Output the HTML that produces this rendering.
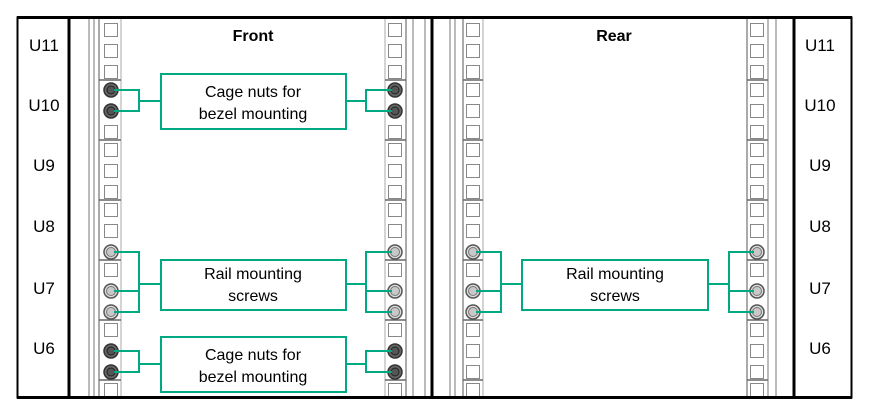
<!DOCTYPE html>
<html><head><style>body{margin:0;background:#fff}svg{display:block}</style></head><body>
<svg width="874" height="413" viewBox="0 0 874 413" xmlns="http://www.w3.org/2000/svg" font-family="Liberation Sans, sans-serif">
<defs>
<rect id="sq" x="-6.5" y="-6.5" width="13" height="13" fill="#fff" stroke="#888" stroke-width="1"/>
<g id="nut"><circle r="7" fill="#666" stroke="#333" stroke-width="1.5"/><circle r="4" fill="#555" stroke="#222" stroke-width="1"/></g>
<g id="scr"><circle r="7" fill="#ddd" stroke="#555" stroke-width="1.5"/><circle r="4.5" fill="#c8c8c8" stroke="#777" stroke-width="1"/></g>
</defs>
<rect x="0" y="0" width="874" height="413" fill="#fff"/>
<g stroke="#777" stroke-width="1" fill="none">
<line x1="89" y1="18" x2="89" y2="397"/><line x1="94" y1="18" x2="94" y2="397"/><line x1="99" y1="18" x2="99" y2="397" stroke="#aaa" stroke-width="2"/><line x1="121" y1="18" x2="121" y2="397" stroke="#aaa"/>
<line x1="385" y1="18" x2="385" y2="397" stroke="#aaa"/><line x1="406" y1="18" x2="406" y2="397" stroke="#aaa" stroke-width="2"/><line x1="413" y1="18" x2="413" y2="397"/><line x1="425" y1="18" x2="425" y2="397"/>
<line x1="450" y1="18" x2="450" y2="397"/><line x1="455" y1="18" x2="455" y2="397"/><line x1="463" y1="18" x2="463" y2="397" stroke="#aaa" stroke-width="2"/><line x1="483" y1="18" x2="483" y2="397" stroke="#aaa"/>
<line x1="747" y1="18" x2="747" y2="397" stroke="#aaa" stroke-width="2"/><line x1="768" y1="18" x2="768" y2="397"/><line x1="776" y1="18" x2="776" y2="397"/>
</g>
<g stroke="#666" stroke-width="1.5">
<line x1="99" y1="80" x2="121" y2="80"/><line x1="99" y1="140" x2="121" y2="140"/><line x1="99" y1="200" x2="121" y2="200"/><line x1="99" y1="260" x2="121" y2="260"/><line x1="99" y1="320" x2="121" y2="320"/><line x1="99" y1="380" x2="121" y2="380"/>
<line x1="385" y1="80" x2="406" y2="80"/><line x1="385" y1="140" x2="406" y2="140"/><line x1="385" y1="200" x2="406" y2="200"/><line x1="385" y1="260" x2="406" y2="260"/><line x1="385" y1="320" x2="406" y2="320"/><line x1="385" y1="380" x2="406" y2="380"/>
<line x1="463" y1="80" x2="483" y2="80"/><line x1="463" y1="140" x2="483" y2="140"/><line x1="463" y1="200" x2="483" y2="200"/><line x1="463" y1="260" x2="483" y2="260"/><line x1="463" y1="320" x2="483" y2="320"/><line x1="463" y1="380" x2="483" y2="380"/>
<line x1="747" y1="80" x2="768" y2="80"/><line x1="747" y1="140" x2="768" y2="140"/><line x1="747" y1="200" x2="768" y2="200"/><line x1="747" y1="260" x2="768" y2="260"/><line x1="747" y1="320" x2="768" y2="320"/><line x1="747" y1="380" x2="768" y2="380"/>
</g>
<g transform="translate(111,0)">
<use href="#sq" y="30"/><use href="#sq" y="51"/><use href="#sq" y="72"/><use href="#nut" y="90"/><use href="#nut" y="111"/><use href="#sq" y="132"/><use href="#sq" y="150"/><use href="#sq" y="171"/><use href="#sq" y="192"/><use href="#sq" y="210"/><use href="#sq" y="231"/><use href="#scr" y="252"/><use href="#sq" y="270"/><use href="#scr" y="291"/><use href="#scr" y="312"/><use href="#sq" y="330"/><use href="#nut" y="351"/><use href="#nut" y="372"/><use href="#sq" y="390"/>
</g>
<g transform="translate(395,0)">
<use href="#sq" y="30"/><use href="#sq" y="51"/><use href="#sq" y="72"/><use href="#nut" y="90"/><use href="#nut" y="111"/><use href="#sq" y="132"/><use href="#sq" y="150"/><use href="#sq" y="171"/><use href="#sq" y="192"/><use href="#sq" y="210"/><use href="#sq" y="231"/><use href="#scr" y="252"/><use href="#sq" y="270"/><use href="#scr" y="291"/><use href="#scr" y="312"/><use href="#sq" y="330"/><use href="#nut" y="351"/><use href="#nut" y="372"/><use href="#sq" y="390"/>
</g>
<g transform="translate(473,0)">
<use href="#sq" y="30"/><use href="#sq" y="51"/><use href="#sq" y="72"/><use href="#sq" y="90"/><use href="#sq" y="111"/><use href="#sq" y="132"/><use href="#sq" y="150"/><use href="#sq" y="171"/><use href="#sq" y="192"/><use href="#sq" y="210"/><use href="#sq" y="231"/><use href="#scr" y="252"/><use href="#sq" y="270"/><use href="#scr" y="291"/><use href="#scr" y="312"/><use href="#sq" y="330"/><use href="#sq" y="351"/><use href="#sq" y="372"/><use href="#sq" y="390"/>
</g>
<g transform="translate(757,0)">
<use href="#sq" y="30"/><use href="#sq" y="51"/><use href="#sq" y="72"/><use href="#sq" y="90"/><use href="#sq" y="111"/><use href="#sq" y="132"/><use href="#sq" y="150"/><use href="#sq" y="171"/><use href="#sq" y="192"/><use href="#sq" y="210"/><use href="#sq" y="231"/><use href="#scr" y="252"/><use href="#sq" y="270"/><use href="#scr" y="291"/><use href="#scr" y="312"/><use href="#sq" y="330"/><use href="#sq" y="351"/><use href="#sq" y="372"/><use href="#sq" y="390"/>
</g>
<g stroke="#01a982" stroke-width="2" fill="none">
<rect x="161" y="74" width="185" height="55" fill="#fff"/>
<rect x="161" y="260" width="185" height="50" fill="#fff"/>
<rect x="161" y="337" width="185" height="55" fill="#fff"/>
<rect x="522" y="260" width="186" height="50" fill="#fff"/>
<polyline points="114,90 139,90 139,111 114,111"/><line x1="139" y1="101" x2="161" y2="101"/>
<polyline points="392,90 366,90 366,111 392,111"/><line x1="346" y1="101" x2="366" y2="101"/>
<polyline points="114,252 139,252 139,312 114,312"/><line x1="114" y1="291" x2="139" y2="291"/><line x1="139" y1="284" x2="161" y2="284"/>
<polyline points="392,252 366,252 366,312 392,312"/><line x1="392" y1="291" x2="366" y2="291"/><line x1="346" y1="284" x2="366" y2="284"/>
<polyline points="114,351 139,351 139,372 114,372"/><line x1="139" y1="364" x2="161" y2="364"/>
<polyline points="392,351 366,351 366,372 392,372"/><line x1="346" y1="364" x2="366" y2="364"/>
<polyline points="476,252 501,252 501,312 476,312"/><line x1="476" y1="291" x2="501" y2="291"/><line x1="501" y1="284" x2="522" y2="284"/>
<polyline points="754,252 729,252 729,312 754,312"/><line x1="754" y1="291" x2="729" y2="291"/><line x1="708" y1="284" x2="729" y2="284"/>
</g>
<g stroke="#000" fill="none">
<rect x="17.5" y="17.5" width="834" height="380" stroke-width="2"/>
<line x1="69" y1="17" x2="69" y2="398" stroke-width="3"/>
<line x1="432" y1="17" x2="432" y2="398" stroke-width="3"/>
<line x1="794" y1="17" x2="794" y2="398" stroke-width="3"/>
<line x1="17" y1="17.5" x2="852" y2="17.5" stroke-width="3"/>
<line x1="17" y1="397.5" x2="852" y2="397.5" stroke-width="3"/>
</g>
<g font-size="16" fill="#000" text-anchor="middle">
<text x="253" y="41" font-weight="bold">Front</text>
<text x="614" y="41" font-weight="bold">Rear</text>
<text x="253" y="97">Cage nuts for</text><text x="253" y="119">bezel mounting</text>
<text x="253" y="279">Rail mounting</text><text x="253" y="301">screws</text>
<text x="253" y="360">Cage nuts for</text><text x="253" y="382">bezel mounting</text>
<text x="615" y="279">Rail mounting</text><text x="615" y="301">screws</text>
</g>
<g font-size="17" fill="#000" text-anchor="middle">
<text x="44" y="51">U11</text><text x="44" y="111">U10</text><text x="44" y="171">U9</text><text x="44" y="232">U8</text><text x="44" y="294">U7</text><text x="44" y="354">U6</text>
<text x="820" y="51">U11</text><text x="820" y="111">U10</text><text x="820" y="171">U9</text><text x="820" y="232">U8</text><text x="820" y="294">U7</text><text x="820" y="354">U6</text>
</g>
</svg>
</body></html>
